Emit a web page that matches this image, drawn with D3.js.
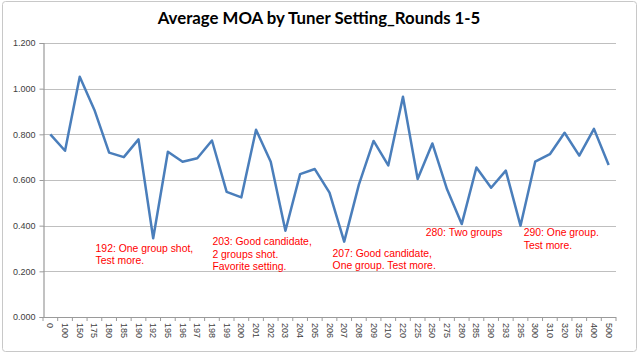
<!DOCTYPE html>
<html>
<head>
<meta charset="utf-8">
<script src="https://cdn.jsdelivr.net/npm/d3@7"></script>
<style>
  body { margin: 0; background: #fff; }
  svg { display: block; }
</style>
</head>
<body>
<div id="chart"></div>
<script>
// Tuner settings along the x axis
const settings = ["0","100","150","175","180","185","190","192","195","196","197","198","199","200",
  "201","202","203","204","205","206","207","208","209","210","220","225","250","275","280","285",
  "290","293","295","300","310","320","325","400","500"];
// Average MOA per setting
const moa = [0.800,0.728,1.052,0.907,0.720,0.700,0.778,0.345,0.724,0.680,0.695,0.773,0.548,0.524,
  0.820,0.680,0.378,0.626,0.648,0.545,0.330,0.580,0.771,0.664,0.965,0.604,0.760,0.559,0.407,0.655,
  0.566,0.641,0.400,0.680,0.713,0.807,0.707,0.824,0.666];
const yTicks = [0, 0.2, 0.4, 0.6, 0.8, 1.0, 1.2];
// Notes: setting they describe, text lines
const noteKeys = ["192", "203", "207", "280", "290"];
const noteLines = [
  ["192: One group shot,", "Test more."],
  ["203: Good candidate,", "2 groups shot.", "Favorite setting."],
  ["207: Good candidate,", "One group. Test more."],
  ["280: Two groups"],
  ["290: One group.", "Test more."]
];
// where each note sits: offset from point x (px) and first-line level (MOA)
const noteDx = [-57.6, -73, -11.6, -36, 32.6];
const noteLevel = [0.302, 0.330, 0.279, 0.369, 0.369];

const W = 640, H = 354;
const svg = d3.select("#chart").append("svg").attr("width", W).attr("height", H);

svg.append("rect").attr("x", 2.5).attr("y", 1.5).attr("width", 634).attr("height", 350)
  .attr("rx", 3).attr("fill", "#fff").attr("stroke", "#c8c8c8");

svg.append("text").attr("x", 319).attr("y", 24).attr("text-anchor", "middle")
  .attr("font-family", "Lato, 'Open Sans', sans-serif").attr("font-weight", "bold")
  .attr("font-size", 16.8).attr("fill", "#000")
  .text("Average MOA by Tuner Setting_Rounds 1-5");

const x = d3.scaleBand().domain(settings).range([43, 616]).padding(0);
const y = d3.scaleLinear().domain([0, 1.2]).range([317, 43]);

// gridlines
svg.append("g").selectAll("line").data(yTicks.slice(1)).join("line")
  .attr("x1", 43).attr("x2", 616)
  .attr("y1", d => Math.round(y(d)) + 0.5).attr("y2", d => Math.round(y(d)) + 0.5)
  .attr("stroke", "#bfbfbf").attr("stroke-width", 1.2);

// y axis
const yAxis = svg.append("g").attr("transform", "translate(43.5,0)")
  .call(d3.axisLeft(y).tickValues(yTicks).tickFormat(d3.format(".3f")).tickSize(4).tickPadding(4));
yAxis.select(".domain").attr("stroke", "#9a9a9a").attr("stroke-width", 1.2);
yAxis.selectAll(".tick line").attr("stroke", "#9a9a9a");
yAxis.selectAll(".tick text").attr("font-family", "'Liberation Sans', Arial, sans-serif")
  .attr("font-size", 9).attr("fill", "#404040");

// x axis
const xg = svg.append("g");
xg.append("line").attr("x1", 43).attr("x2", 616).attr("y1", 317.5).attr("y2", 317.5)
  .attr("stroke", "#9a9a9a").attr("stroke-width", 1.2);
xg.selectAll("line.tk").data(d3.range(settings.length + 1)).join("line").attr("class", "tk")
  .attr("x1", i => x.range()[0] + i * x.step()).attr("x2", i => x.range()[0] + i * x.step())
  .attr("y1", 317).attr("y2", 321).attr("stroke", "#9a9a9a");
xg.selectAll("text").data(settings).join("text")
  .attr("transform", d => `translate(${x(d) + x.bandwidth() / 2 - 3},323) rotate(90)`)
  .attr("font-family", "'Liberation Sans', Arial, sans-serif").attr("font-size", 9)
  .attr("fill", "#404040").text(d => d);

// series line
const line = d3.line().x((d, i) => x(settings[i]) + x.bandwidth() / 2).y(d => y(d));
svg.append("path").datum(moa).attr("d", line).attr("fill", "none")
  .attr("stroke", "#4a7ebb").attr("stroke-width", 2.5).attr("stroke-linejoin", "round");

// notes
noteKeys.forEach((k, n) => {
  const px = x(k) + x.bandwidth() / 2 + noteDx[n];
  const t = svg.append("text").attr("font-family", "'Liberation Sans', Arial, sans-serif")
    .attr("font-size", 10.4).attr("fill", "#ff0000");
  noteLines[n].forEach((s, j) => {
    t.append("tspan").attr("x", px).attr("y", y(noteLevel[n]) + 3.6 + j * 12.5).text(s);
  });
});
</script>
</body>
</html>
